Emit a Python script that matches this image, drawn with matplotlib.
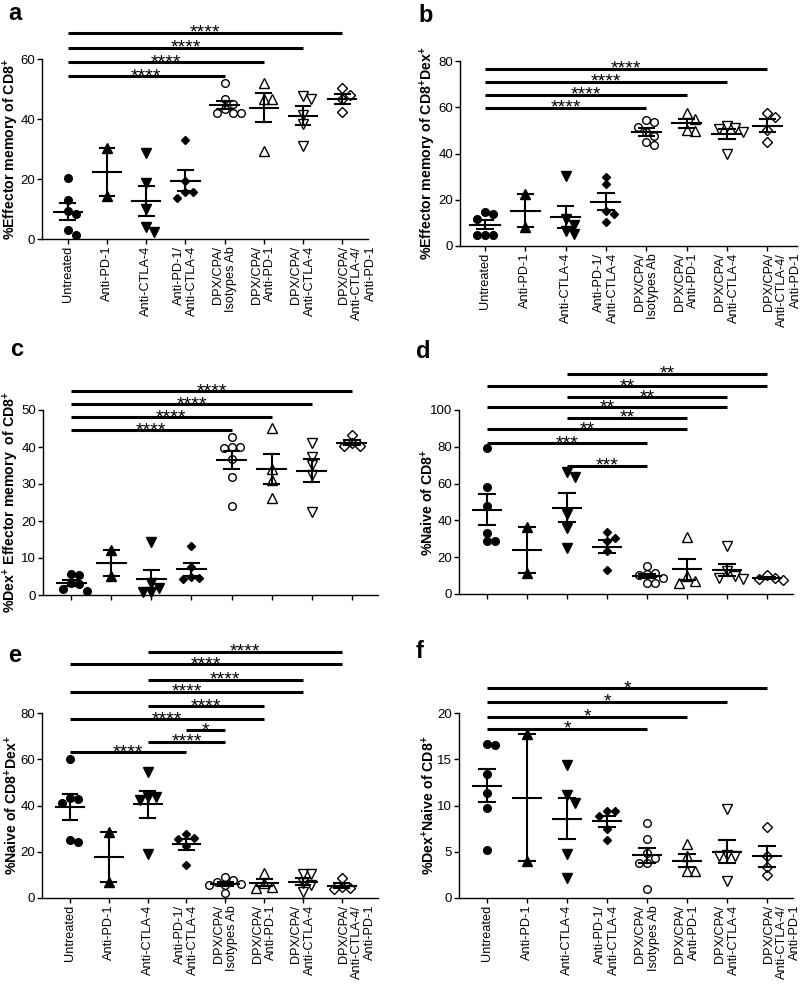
import matplotlib
matplotlib.use("Agg")
import matplotlib.pyplot as plt
import matplotlib.transforms as mtransforms
import numpy as np

plt.rcParams["font.family"] = ["Liberation Sans", "DejaVu Sans"]
plt.rcParams["mathtext.fontset"] = "custom"
plt.rcParams["mathtext.rm"] = "Liberation Sans"
plt.rcParams["mathtext.bf"] = "Liberation Sans:bold"

GROUPS = ["Untreated", "Anti-PD-1", "Anti-CTLA-4", "Anti-PD-1/\nAnti-CTLA-4",
          "DPX/CPA/\nIsotypes Ab", "DPX/CPA/\nAnti-PD-1", "DPX/CPA/\nAnti-CTLA-4",
          "DPX/CPA/\nAnti-CTLA-4/\nAnti-PD-1"]

# --- a: %Effector memory of CD8+
a_values = [
    [20.5, 12.9, 9.2, 8.3, 2.9, 1.2],
    [30.3, 14.2],
    [28.6, 18.8, 10.0, 3.9, 2.3],
    [33.0, 19.2, 15.7, 15.7, 13.7],
    [52.1, 46.8, 45.0, 43.5, 41.9, 41.9, 41.9],
    [51.9, 46.8, 46.8, 29.5],
    [47.8, 46.8, 41.5, 38.5, 31.0],
    [50.2, 47.9, 46.7, 42.3],
]
a_sig = [(0, 7, 68.7, "****"), (0, 6, 63.7, "****"), (0, 5, 59.0, "****"), (0, 4, 54.3, "****")]

# --- b: %Effector memory of CD8+Dex+
b_values = [
    [14.6, 14.0, 11.7, 4.9, 4.9, 4.9],
    [22.3, 8.4],
    [30.4, 11.5, 9.0, 6.5, 5.3],
    [30.0, 26.7, 15.1, 13.8, 10.5],
    [54.3, 53.5, 51.5, 49.5, 47.5, 45.0, 43.7],
    [57.5, 54.8, 50.0, 49.7],
    [52.0, 51.0, 50.5, 49.5, 40.0],
    [57.6, 55.6, 50.0, 44.8],
]
b_sig = [(0, 7, 76.6, "****"), (0, 6, 71.0, "****"), (0, 5, 65.4, "****"), (0, 4, 59.7, "****")]

# --- c: %Dex+ Effector memory of CD8+
c_values = [
    [5.6, 5.4, 3.2, 2.9, 1.5, 1.2],
    [12.1, 5.2],
    [14.4, 3.3, 1.8, 0.9, 0.9],
    [13.2, 7.7, 4.8, 4.7, 4.3],
    [42.7, 40.0, 40.0, 39.6, 36.7, 31.8, 24.0],
    [45.0, 34.1, 31.2, 26.1],
    [41.0, 37.4, 35.1, 32.4, 22.3],
    [43.2, 41.0, 40.3, 40.3],
]
c_sig = [(0, 7, 55.1, "****"), (0, 6, 51.6, "****"), (0, 5, 48.1, "****"), (0, 4, 44.6, "****")]

# --- d: %Naive of CD8+
d_values = [
    [79.2, 58.0, 47.9, 33.1, 28.6, 28.6],
    [36.2, 11.4],
    [66.5, 63.8, 43.4, 35.8, 25.0],
    [33.5, 30.4, 28.9, 23.1, 12.8],
    [15.0, 11.4, 10.8, 10.1, 8.7, 6.0, 6.0],
    [30.9, 9.6, 6.9, 6.0],
    [25.9, 12.3, 9.6, 8.7, 8.3],
    [10.5, 8.7, 8.1, 7.8],
]
d_sig = [(2, 7, 119.6, "**"), (0, 7, 113.0, "**"), (2, 6, 107.0, "**"), (0, 6, 101.6, "**"),
         (2, 5, 95.7, "**"), (0, 5, 89.6, "**"), (0, 4, 82.0, "***"), (2, 4, 69.6, "***")]

# --- e: %Naive of CD8+Dex+
e_values = [
    [60.1, 43.4, 42.8, 41.0, 24.9, 24.1],
    [28.4, 6.9],
    [54.3, 43.5, 43.5, 42.4, 19.1],
    [27.7, 26.1, 25.6, 22.6, 14.1],
    [8.9, 7.9, 6.9, 6.0, 5.7, 5.5, 2.2],
    [10.8, 6.5, 4.6, 4.3],
    [10.5, 10.3, 6.5, 5.5, 2.6],
    [8.6, 4.7, 4.3, 4.0],
]
e_sig = [(2, 7, 106.4, "****"), (0, 7, 101.2, "****"), (2, 6, 94.3, "****"), (0, 6, 89.1, "****"),
         (2, 5, 83.0, "****"), (0, 5, 77.4, "****"), (3, 4, 72.6, "*"), (2, 4, 67.5, "****"),
         (0, 3, 63.1, "****")]

# --- f: %Dex+Naive of CD8+
f_values = [
    [16.7, 16.5, 13.4, 11.3, 9.7, 5.2],
    [17.7, 4.0],
    [14.4, 11.1, 10.3, 4.8, 2.2],
    [9.4, 9.4, 8.9, 7.5, 6.3],
    [8.1, 6.4, 4.9, 4.3, 3.8, 3.8, 1.0],
    [5.8, 4.5, 2.9, 2.9],
    [9.6, 4.6, 4.5, 4.5, 1.8],
    [7.7, 4.5, 3.4, 2.5],
]
f_sig = [(0, 7, 22.7, "*"), (0, 6, 21.2, "*"), (0, 5, 19.6, "*"), (0, 4, 18.3, "*")]

MARKERS = ["o", "^", "v", "D", "o", "^", "v", "D"]
MSIZES = [5.5, 6.5, 6.5, 4.3, 5.5, 6.5, 6.5, 5.0]
FILLED = [True, True, True, True, False, False, False, False]

W, H = 800, 985


def swarm_offsets(ax, x0, vals, step_px=8.0, diam_px=7.5):
    to_px = ax.transData.transform
    px_per_x = to_px((1, 0))[0] - to_px((0, 0))[0]
    placed, offs = [], []
    for v in vals:
        yp = to_px((x0, v))[1]
        k, found = 0, None
        while found is None:
            for c in ([0] if k == 0 else [k, -k]):
                xp = c * step_px
                if all((xp - px) ** 2 + (yp - py) ** 2 >= diam_px ** 2 for px, py in placed):
                    found = xp
                    break
            k += 1
        placed.append((found, yp))
        offs.append(found / px_per_x)
    return np.array(offs)


def draw_panel(box, xlim, ylim, yticks, values, sig, ylabel, label_px, xlabels):
    left, top, right, bottom = box
    ax = fig.add_axes([left / W, 1 - bottom / H, (right - left) / W, (bottom - top) / H])
    ax.set_xlim(*xlim)
    ax.set_ylim(*ylim)
    for s in ["top", "right"]:
        ax.spines[s].set_visible(False)
    for s in ["left", "bottom"]:
        ax.spines[s].set_linewidth(1.0)
    ax.set_yticks(yticks)
    ax.tick_params(direction="out", length=3.5, width=1.0, labelsize=9.5, pad=1.5)
    ax.set_xticks(range(len(GROUPS)))
    if xlabels:
        labels = ax.set_xticklabels(GROUPS, rotation=90, fontsize=9.2, va="top", ha="center",
                                    ma="right", linespacing=1.15)
        # the three-line label starts at its tick in the original
        shift = mtransforms.ScaledTranslation(0.15, 0, fig.dpi_scale_trans)
        labels[-1].set_transform(labels[-1].get_transform() + shift)
    else:
        ax.set_xticklabels([])

    for i, vals in enumerate(values):
        vals = np.asarray(vals)
        xs = i + swarm_offsets(ax, i, vals)
        fc = "black" if FILLED[i] else "none"
        ax.plot(xs, vals, ls="none", marker=MARKERS[i], ms=MSIZES[i], mfc=fc,
                mec="black", mew=1.0, zorder=2, clip_on=False)
        m = vals.mean()
        sem = vals.std(ddof=1) / np.sqrt(len(vals))
        ax.plot([i - 0.36, i + 0.36], [m, m], color="black", lw=1.5, zorder=3)
        ax.plot([i, i], [m - sem, m + sem], color="black", lw=1.5, zorder=3)
        for y in (m - sem, m + sem):
            ax.plot([i - 0.19, i + 0.19], [y, y], color="black", lw=1.5, zorder=3)

    for g0, g1, y, txt in sig:
        ax.plot([g0, g1], [y, y], color="black", lw=2.2, clip_on=False, zorder=4,
                solid_capstyle="butt")
        ax.annotate(txt, ((g0 + g1) / 2, y), xytext=(0, -3.6), textcoords="offset points",
                    ha="center", va="baseline", fontsize=14, annotation_clip=False)

    ax.set_ylabel(ylabel, fontsize=10.2, fontweight="bold", va="center")
    ax.yaxis.set_label_coords((label_px - left) / (right - left), 0.5)
    return ax


fig = plt.figure(figsize=(W / 100, H / 100), dpi=100)

draw_panel((42, 59, 368, 239), (-0.66, 7.66), (0, 60), [0, 20, 40, 60], a_values, a_sig,
           r"%Effector memory of CD8$^{\mathbf{+}}$", 11, True)
draw_panel((460, 61, 797, 246), (-0.62, 7.74), (0, 80), [0, 20, 40, 60, 80], b_values, b_sig,
           r"%Effector memory of CD8$^{\mathbf{+}}$Dex$^{\mathbf{+}}$", 428, True)
draw_panel((43, 410, 378, 595), (-0.70, 7.65), (0, 50), [0, 10, 20, 30, 40, 50], c_values, c_sig,
           r"%Dex$^{\mathbf{+}}$ Effector memory  of CD8$^{\mathbf{+}}$", 11, False)
draw_panel((459, 410, 793, 594), (-0.70, 7.65), (0, 100), [0, 20, 40, 60, 80, 100], d_values, d_sig,
           r"%Naive of CD8$^{\mathbf{+}}$", 428, False)
draw_panel((42, 713, 378, 898), (-0.72, 7.93), (0, 80), [0, 20, 40, 60, 80], e_values, e_sig,
           r"%Naive of CD8$^{\mathbf{+}}$Dex$^{\mathbf{+}}$", 12, True)
draw_panel((459, 713, 793, 898), (-0.70, 7.65), (0, 20), [0, 5, 10, 15, 20], f_values, f_sig,
           r"%Dex$^{\mathbf{+}}$Naive of CD8$^{\mathbf{+}}$", 429, True)

for letter, x, y in [("a", 8, 14), ("b", 418, 16), ("c", 10, 350),
                     ("d", 416, 352), ("e", 8, 655), ("f", 416, 652)]:
    fig.text(x / W, 1 - y / H, letter, fontsize=17, fontweight="bold", ha="left", va="center")

fig.savefig("out.png", dpi=100, facecolor="white")
